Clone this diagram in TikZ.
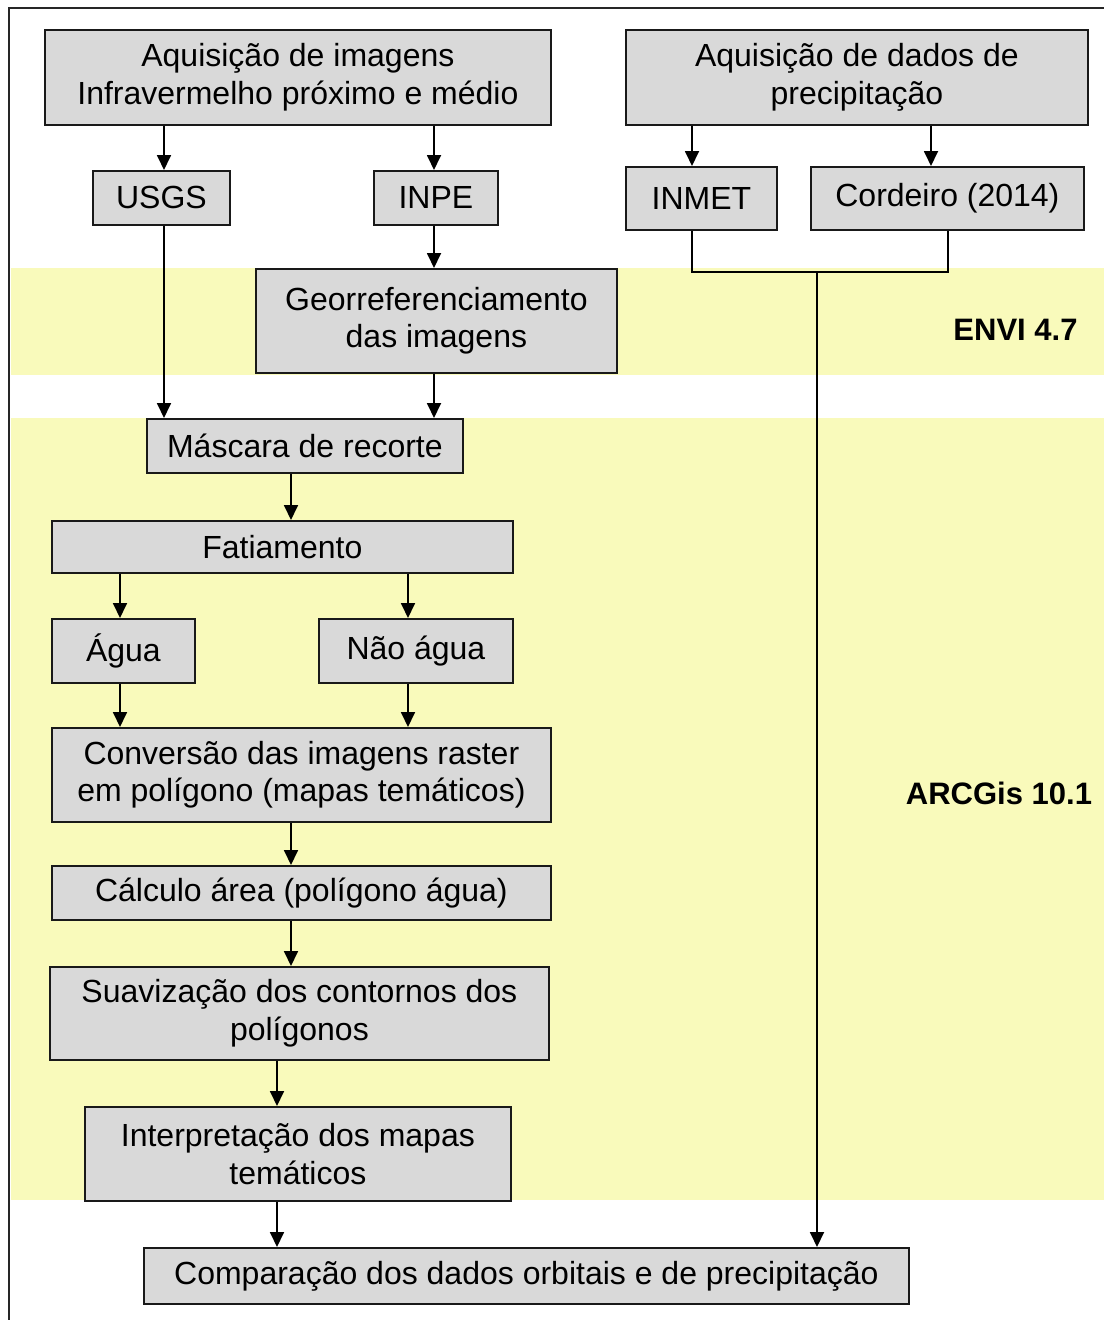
\documentclass[tikz,border=0pt]{standalone}
\usepackage{fontspec}
\setmainfont{Liberation Sans}
\usetikzlibrary{arrows.meta}
\definecolor{bandyellow}{HTML}{F9FABB}
\definecolor{boxgray}{HTML}{D9D9D9}
\begin{document}
\begin{tikzpicture}[x=1pt,y=-1pt,
  font=\fontsize{32}{37.5}\selectfont,
  box/.style={draw=black!90, fill=boxgray, line width=1.8pt, inner sep=0pt, align=center, anchor=north west},
  arr/.style={line width=1.8pt, -{Triangle[length=15pt,width=14pt]}},
  conn/.style={line width=1.8pt},
  band/.style={fill=bandyellow, draw=none},
  lbl/.style={font=\fontsize{31}{36}\selectfont\bfseries, inner sep=0pt}]
\useasboundingbox (0,0) rectangle (1104,1320);
\fill[white] (0,0) rectangle (1104,1320);
% bands
\path[band] (11,268) rectangle (1104,375);
\path[band] (11,418) rectangle (1104,1200);
% outer frame
\draw[line width=2pt, black!85] (9,1320) -- (9,8) -- (1104,8);
% labels
\node[lbl] (envi) at (1015.5,330) {ENVI 4.7};
\node[lbl] (arcgis) at (999,793) {ARCGis 10.1};
% boxes
\node[box, minimum width=506pt, minimum height=95pt] (a1) at (44,29) {Aquisição de imagens\\Infravermelho próximo e médio};
\node[box, minimum width=462pt, minimum height=95pt] (a2) at (625,29) {Aquisição de dados de\\precipitação};
\node[box, minimum width=137pt, minimum height=54pt] (usgs) at (92,170) {USGS};
\node[box, minimum width=124pt, minimum height=54pt] (inpe) at (373,170) {INPE};
\node[box, minimum width=151pt, minimum height=63pt] (inmet) at (625,166) {INMET};
\node[box, minimum width=273pt, minimum height=63pt] (cord) at (810,166) {Cordeiro (2014)};
\node[box, minimum width=361pt, minimum height=104pt] (geo) at (255,268) {Georreferenciamento\\das imagens};
\node[box, minimum width=316pt, minimum height=54pt] (masc) at (146,418) {Máscara de recorte};
\node[box, minimum width=461pt, minimum height=52pt] (fat) at (51,520) {Fatiamento};
\node[box, minimum width=143pt, minimum height=64pt] (agua) at (51,618) {Água};
\node[box, minimum width=194pt, minimum height=64pt] (nagua) at (318,618) {Não água};
\node[box, minimum width=499pt, minimum height=94pt] (conv) at (51,727) {Conversão das imagens raster\\em polígono (mapas temáticos)};
\node[box, minimum width=499pt, minimum height=54pt] (calc) at (51,865) {Cálculo área (polígono água)};
\node[box, minimum width=499pt, minimum height=93pt] (suav) at (49,966) {Suavização dos contornos dos\\polígonos};
\node[box, minimum width=426pt, minimum height=94pt] (interp) at (84,1106) {Interpretação dos mapas\\temáticos};
\node[box, minimum width=765pt, minimum height=56pt] (comp) at (143,1247) {Comparação dos dados orbitais e de precipitação};
% x positions
\coordinate (x120) at (120,0);
\coordinate (x164) at (164,0);
\coordinate (x277) at (277,0);
\coordinate (x291) at (291,0);
\coordinate (x408) at (408,0);
\coordinate (x434) at (434,0);
\coordinate (x692) at (692,0);
\coordinate (x931) at (931,0);
\coordinate (x948) at (948,0);
\coordinate (junc) at (817,272);
% arrows
\draw[arr] (a1.south -| x164) -- (usgs.north -| x164);
\draw[arr] (a1.south -| x434) -- (inpe.north -| x434);
\draw[arr] (a2.south -| x692) -- (inmet.north -| x692);
\draw[arr] (a2.south -| x931) -- (cord.north -| x931);
\draw[arr] (inpe.south -| x434) -- (geo.north -| x434);
\draw[arr] (usgs.south -| x164) -- (masc.north -| x164);
\draw[arr] (geo.south -| x434) -- (masc.north -| x434);
\draw[conn] (inmet.south -| x692) |- (junc) -| (cord.south -| x948);
\draw[arr] (junc) -- (comp.north -| junc);
\draw[arr] (masc.south -| x291) -- (fat.north -| x291);
\draw[arr] (fat.south -| x120) -- (agua.north -| x120);
\draw[arr] (fat.south -| x408) -- (nagua.north -| x408);
\draw[arr] (agua.south -| x120) -- (conv.north -| x120);
\draw[arr] (nagua.south -| x408) -- (conv.north -| x408);
\draw[arr] (conv.south -| x291) -- (calc.north -| x291);
\draw[arr] (calc.south -| x291) -- (suav.north -| x291);
\draw[arr] (suav.south -| x277) -- (interp.north -| x277);
\draw[arr] (interp.south -| x277) -- (comp.north -| x277);
\end{tikzpicture}
\end{document}
